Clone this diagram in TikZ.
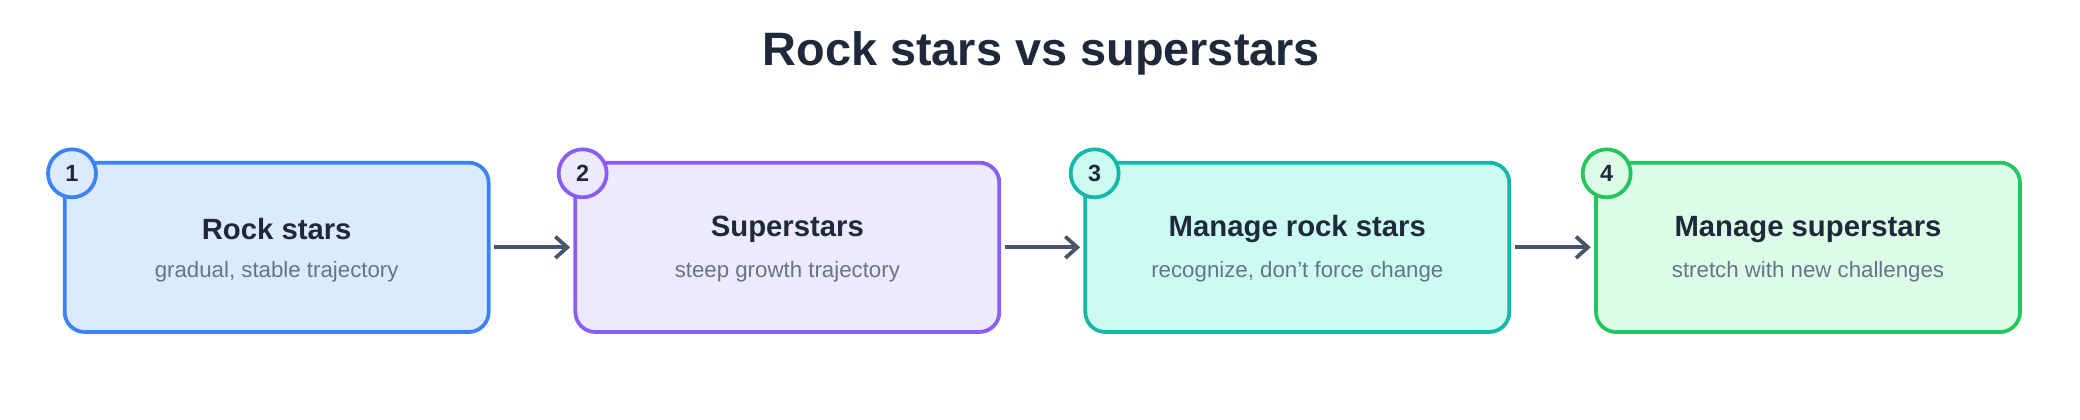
\documentclass[tikz,border=0pt]{standalone}
\usepackage{fontspec}
\setmainfont{Liberation Sans}
\usetikzlibrary{positioning, arrows.meta}
\definecolor{titleInk}{HTML}{1E293B}
\definecolor{subInk}{HTML}{64748B}
\definecolor{arrowInk}{HTML}{475569}
\definecolor{blueLine}{HTML}{3B82F6}\definecolor{blueFill}{HTML}{DBEAFE}
\definecolor{purpleLine}{HTML}{8B5CF6}\definecolor{purpleFill}{HTML}{EDE9FE}
\definecolor{tealLine}{HTML}{14B8A6}\definecolor{tealFill}{HTML}{CCFBF1}
\definecolor{greenLine}{HTML}{22C55E}\definecolor{greenFill}{HTML}{DCFCE7}
\tikzset{
  stepbox/.style={draw, line width=1.6pt, rounded corners=0.3cm, minimum width=6.36cm, minimum height=2.54cm},
  stepnum/.style={circle, draw, line width=1.6pt, minimum size=0.72cm, inner sep=0pt, font=\bfseries\fontsize{10}{12}\selectfont, text=titleInk},
  steptitle/.style={font=\bfseries\fontsize{12.5}{15}\selectfont, text=titleInk},
  stepsub/.style={font=\fontsize{9.5}{11}\selectfont, text=subInk},
  flow/.style={-{Straight Barb[length=0.18cm, width=0.32cm]}, line width=1.6pt, arrowInk}
}
\begin{document}
\begin{tikzpicture}
\useasboundingbox (0,0) rectangle (31.2,-6.3);
\node (title) [font=\bfseries\fontsize{20}{24}\selectfont, text=titleInk] at (15.62,-0.8) {Rock stars vs superstars};

\node (rock) [stepbox, draw=blueLine, fill=blueFill] at (4.15,-3.71) {};
\node (rockNum) [stepnum, draw=blueLine, fill=blueFill] at (1.08,-2.6) {1};
\node (rockTitle) [steptitle] at (4.15,-3.44) {Rock stars};
\node (rockSub) [stepsub] at (4.15,-4.08) {gradual, stable trajectory};

\node (super) [stepbox, draw=purpleLine, fill=purpleFill] at (11.81,-3.71) {};
\node (superNum) [stepnum, draw=purpleLine, fill=purpleFill] at (8.74,-2.6) {2};
\node (superTitle) [steptitle] at (11.81,-3.44) {Superstars};
\node (superSub) [stepsub] at (11.81,-4.08) {steep growth trajectory};

\node (manRock) [stepbox, draw=tealLine, fill=tealFill] at (19.46,-3.71) {};
\node (manRockNum) [stepnum, draw=tealLine, fill=tealFill] at (16.42,-2.6) {3};
\node (manRockTitle) [steptitle] at (19.46,-3.44) {Manage rock stars};
\node (manRockSub) [stepsub] at (19.46,-4.08) {recognize, don't force change};

\node (manSuper) [stepbox, draw=greenLine, fill=greenFill] at (27.12,-3.71) {};
\node (manSuperNum) [stepnum, draw=greenLine, fill=greenFill] at (24.1,-2.6) {4};
\node (manSuperTitle) [steptitle] at (27.12,-3.44) {Manage superstars};
\node (manSuperSub) [stepsub] at (27.12,-4.08) {stretch with new challenges};

\draw[flow] ([xshift=0.05cm]rock.east) -- ([xshift=-0.05cm]super.west);
\draw[flow] ([xshift=0.05cm]super.east) -- ([xshift=-0.05cm]manRock.west);
\draw[flow] ([xshift=0.05cm]manRock.east) -- ([xshift=-0.05cm]manSuper.west);
\end{tikzpicture}
\end{document}
